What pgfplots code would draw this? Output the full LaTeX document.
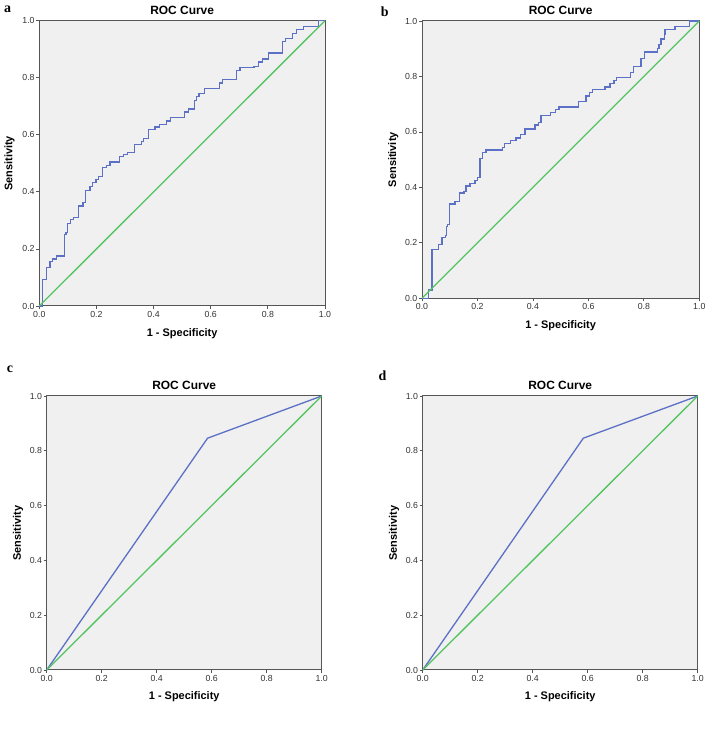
\documentclass[border=0pt]{standalone}
\usepackage{fontspec}
\setmainfont{Liberation Sans}
\newfontfamily\serifbold{Liberation Serif}
\usepackage{pgfplots}
\pgfplotsset{compat=1.18}
\definecolor{bgg}{RGB}{240,240,240}
\definecolor{rocblue}{RGB}{92,112,198}
\definecolor{rocgreen}{RGB}{84,196,96}
\definecolor{framec}{RGB}{85,85,85}

\pgfplotsset{rocax/.style={
  scale only axis, anchor=south west,
  xmin=0, xmax=1, ymin=0, ymax=1,
  xtick={0,0.2,0.4,0.6,0.8,1}, ytick={0,0.2,0.4,0.6,0.8,1},
  tick align=outside, xtick pos=left, ytick pos=left,
  major tick length=3bp,
  tick style={draw=framec, line width=0.8bp},
  axis line style={draw=framec, line width=1bp},
  axis background/.style={fill=bgg},
  ticklabel style={font=\fontsize{8.8}{10}\selectfont, text=black!80},
  xticklabel style={inner sep=2bp},
  yticklabel style={inner sep=1.5bp},
  xticklabel={\pgfmathprintnumber[fixed,fixed zerofill,precision=1,assume math mode=true]{\tick}},
  yticklabel={\pgfmathprintnumber[fixed,fixed zerofill,precision=1,assume math mode=true]{\tick}},
  every axis title shift=0pt,
  title={ROC Curve},
  title style={font=\bfseries\fontsize{12}{14}\selectfont, at={(axis description cs:0.5,1.037)}, anchor=center},
  xlabel={1 - Specificity},
  xlabel style={font=\bfseries\fontsize{11}{13}\selectfont, at={(axis description cs:0.5,-0.097)}, anchor=center},
  ylabel={Sensitivity},
  ylabel style={font=\bfseries\fontsize{11}{13}\selectfont, at={(axis description cs:-0.104,0.5)}, anchor=center},
  clip=false,
  every axis plot/.append style={line width=1.3bp},
}}

\begin{document}
\begin{tikzpicture}[x=1bp,y=1bp]
\useasboundingbox (0,0) rectangle (708,730);

% Panel a
\begin{axis}[rocax, at={(39.3bp,424bp)}, width=285.7bp, height=285.3bp]
\addplot[rocblue, const plot] coordinates {
(0,0) (0.012,0.093) (0.024,0.134) (0.037,0.157) (0.046,0.165) (0.060,0.175)
(0.087,0.250) (0.093,0.258) (0.099,0.290) (0.110,0.302) (0.120,0.310)
(0.136,0.350) (0.153,0.362) (0.162,0.404) (0.177,0.418) (0.187,0.432)
(0.198,0.444) (0.207,0.455) (0.222,0.485) (0.236,0.492) (0.247,0.505)
(0.280,0.524) (0.294,0.530) (0.308,0.537) (0.332,0.567) (0.357,0.576)
(0.364,0.586) (0.382,0.618) (0.405,0.627) (0.420,0.637) (0.445,0.648)
(0.458,0.660) (0.508,0.680) (0.522,0.690) (0.543,0.720) (0.551,0.735)
(0.559,0.745) (0.578,0.763) (0.630,0.782) (0.641,0.793) (0.691,0.825)
(0.702,0.835) (0.751,0.840) (0.766,0.855) (0.781,0.866) (0.801,0.887)
(0.852,0.928) (0.862,0.938) (0.887,0.955) (0.900,0.968) (0.925,0.980)
(0.977,1.000) (1.000,1.000)};
\addplot[rocgreen] coordinates {(0,0) (1,1)};
\end{axis}

% Panel b
\begin{axis}[rocax, at={(422bp,431.7bp)}, width=277.3bp, height=277.3bp]
\addplot[rocblue, const plot] coordinates {
(0,0) (0.023,0.030) (0.036,0.177) (0.060,0.195) (0.072,0.218) (0.084,0.226)
(0.088,0.258) (0.093,0.266) (0.099,0.340) (0.119,0.350) (0.135,0.380)
(0.151,0.385) (0.159,0.405) (0.173,0.415) (0.191,0.425) (0.200,0.435)
(0.209,0.505) (0.219,0.525) (0.231,0.535) (0.291,0.545) (0.298,0.557)
(0.320,0.570) (0.339,0.578) (0.356,0.590) (0.371,0.610) (0.407,0.625)
(0.419,0.635) (0.429,0.660) (0.464,0.670) (0.481,0.680) (0.494,0.690)
(0.564,0.710) (0.591,0.730) (0.603,0.742) (0.614,0.752) (0.660,0.762)
(0.678,0.775) (0.692,0.785) (0.702,0.795) (0.752,0.815) (0.762,0.835)
(0.790,0.865) (0.802,0.888) (0.850,0.900) (0.855,0.915) (0.862,0.935)
(0.874,0.950) (0.876,0.970) (0.912,0.980) (0.964,1.000) (1.000,1.000)};
\addplot[rocgreen] coordinates {(0,0) (1,1)};
\end{axis}

% Panel c
\begin{axis}[rocax, at={(46.7bp,60bp)}, width=275bp, height=274bp]
\addplot[rocblue] coordinates {(0,0) (0.585,0.846) (1,1)};
\addplot[rocgreen] coordinates {(0,0) (1,1)};
\end{axis}

% Panel d
\begin{axis}[rocax, at={(422.7bp,60bp)}, width=275bp, height=274bp]
\addplot[rocblue] coordinates {(0,0) (0.584,0.846) (1,1)};
\addplot[rocgreen] coordinates {(0,0) (1,1)};
\end{axis}

\node[anchor=base west, inner sep=0, font=\serifbold\bfseries\fontsize{14}{14}\selectfont] at (4,717.3) {a};
\node[anchor=base west, inner sep=0, font=\serifbold\bfseries\fontsize{14}{14}\selectfont] at (380.7,713.3) {b};
\node[anchor=base west, inner sep=0, font=\serifbold\bfseries\fontsize{14}{14}\selectfont] at (6.7,357.3) {c};
\node[anchor=base west, inner sep=0, font=\serifbold\bfseries\fontsize{14}{14}\selectfont] at (378.3,349.3) {d};
\end{tikzpicture}
\end{document}
